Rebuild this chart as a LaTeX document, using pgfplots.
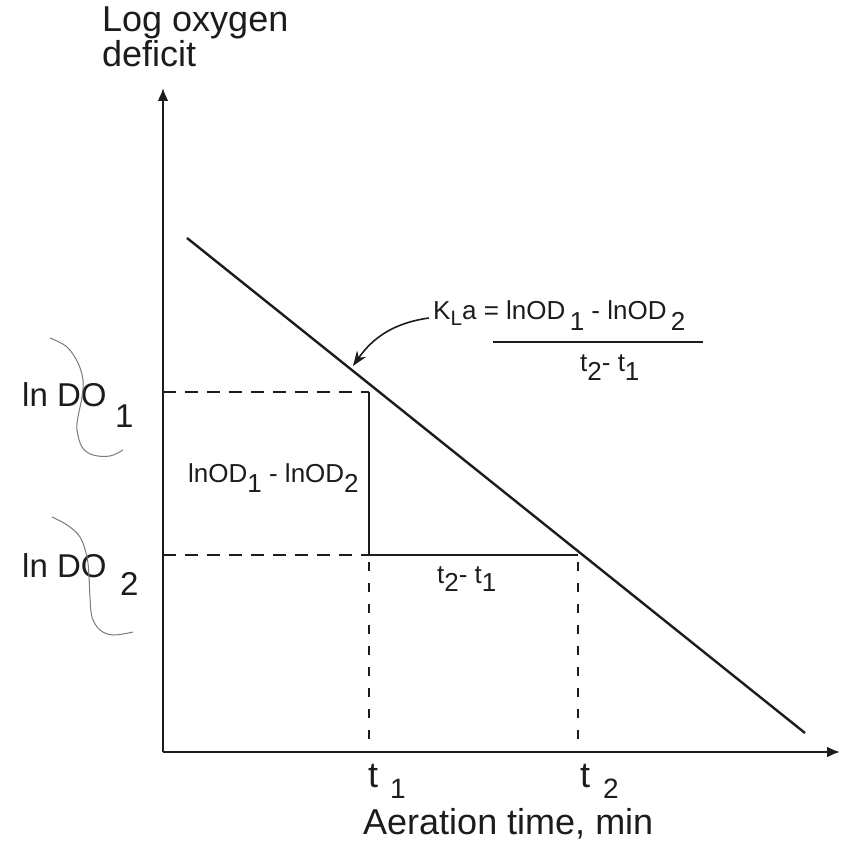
\documentclass[border=0pt]{standalone}
\usepackage{graphicx}
\usepackage{fontspec}
\setmainfont{Liberation Sans}
\usepackage{pgfplots}
\pgfplotsset{compat=1.18}
\usetikzlibrary{arrows.meta}

\definecolor{ink}{HTML}{1C1C1C}
\definecolor{pencil}{HTML}{7A7A7A}

\newcommand\axfont{\fontsize{36}{36}\selectfont}
\newcommand\dofont{\fontsize{33}{33}\selectfont}
\newcommand\smfont{\fontsize{26}{26}\selectfont}
% lowered subscript
\newcommand\lsub[2]{\raisebox{#1}{#2}}

\begin{document}
\begin{tikzpicture}
\path[use as bounding box] (-163pt,-88pt) rectangle (687pt,752pt);
\begin{axis}[
  at={(0pt,0pt)}, anchor=south west,
  x=1pt, y=1pt,
  xmin=0, xmax=677, ymin=0, ymax=664,
  axis lines=left,
  axis line style={ink, line width=2.2pt, -{Latex[length=13pt,width=11pt]}},
  xtick=\empty, ytick=\empty,
  clip=false,
]
% deficit line
\addplot[ink, line width=2.4pt] coordinates {(24,514) (642,19)};
% reference levels
\addplot[ink, line width=1.3pt, dash pattern=on 13pt off 9pt] coordinates {(0,360) (206,360)};
\addplot[ink, line width=1.3pt, dash pattern=on 13pt off 9pt] coordinates {(0,197) (206,197)};
% slope triangle
\addplot[ink, line width=1.4pt] coordinates {(206,360) (206,197) (415,197)};
% time marks
\addplot[ink, line width=1.2pt, dash pattern=on 9pt off 12pt] coordinates {(206,190) (206,0)};
\addplot[ink, line width=1.2pt, dash pattern=on 9pt off 12pt] coordinates {(415,190) (415,0)};

% axis titles
\node[anchor=base west, text=ink, inner sep=0pt] at (axis cs:-61,720) {\axfont Log oxygen};
\node[anchor=base west, text=ink, inner sep=0pt] at (axis cs:-61,685) {\axfont deficit};
\node[anchor=base west, text=ink, inner sep=0pt] at (axis cs:200,-82) {\axfont Aeration time, min};

% time labels
\node[anchor=base west, text=ink, inner sep=0pt] at (axis cs:205,-35) {\axfont t};
\node[anchor=base west, text=ink, inner sep=0pt] at (axis cs:227,-46) {\fontsize{28}{28}\selectfont 1};
\node[anchor=base west, text=ink, inner sep=0pt] at (axis cs:417,-35) {\axfont t};
\node[anchor=base west, text=ink, inner sep=0pt] at (axis cs:440,-46) {\fontsize{28}{28}\selectfont 2};

% level labels
\node[anchor=base west, text=ink, inner sep=0pt] at (axis cs:-141,345) {\dofont ln DO};
\node[anchor=base west, text=ink, inner sep=0pt] at (axis cs:-48,324) {\dofont 1};
\node[anchor=base west, text=ink, inner sep=0pt] at (axis cs:-141,175) {\dofont ln DO};
\node[anchor=base west, text=ink, inner sep=0pt] at (axis cs:-43,157) {\dofont 2};

% pencil brackets
\draw[pencil, line width=1pt] plot[smooth, tension=0.6] coordinates {
  (axis cs:-113,414) (axis cs:-96,405) (axis cs:-85,389) (axis cs:-80,372)
  (axis cs:-81,355) (axis cs:-85,335) (axis cs:-86,322) (axis cs:-81,305)
  (axis cs:-70,297) (axis cs:-53,296) (axis cs:-40,302)};
\draw[pencil, line width=1pt] plot[smooth, tension=0.6] coordinates {
  (axis cs:-111,235) (axis cs:-96,227) (axis cs:-83,215) (axis cs:-76,195)
  (axis cs:-74,175) (axis cs:-73,155) (axis cs:-71,135) (axis cs:-63,122)
  (axis cs:-50,117) (axis cs:-30,120)};

% triangle labels
\node[anchor=base west, text=ink, inner sep=0pt] at (axis cs:25,269)
  {\smfont lnOD\lsub{-10pt}{1} - lnOD\lsub{-10pt}{2}};
\node[anchor=base west, text=ink, inner sep=0pt] at (axis cs:274,169)
  {\smfont t\lsub{-9pt}{2}- t\lsub{-9pt}{1}};

% slope formula
\node[anchor=base west, text=ink, inner sep=0pt] at (axis cs:270,432)
  {\smfont K\lsub{-6pt}{\scalebox{0.8}{L}}a = lnOD\,\lsub{-11pt}{1} - lnOD\,\lsub{-11pt}{2}};
\draw[ink, line width=1.3pt] (axis cs:330,410) -- (axis cs:540,410);
\node[anchor=base west, text=ink, inner sep=0pt] at (axis cs:417,380)
  {\smfont t\lsub{-9pt}{2}- t\lsub{-9pt}{1}};
\draw[ink, line width=1.6pt, -{Stealth[length=15pt,width=11pt]}]
  (axis cs:266,434) to[out=188,in=55] (axis cs:190,386);
\end{axis}
\end{tikzpicture}
\end{document}
